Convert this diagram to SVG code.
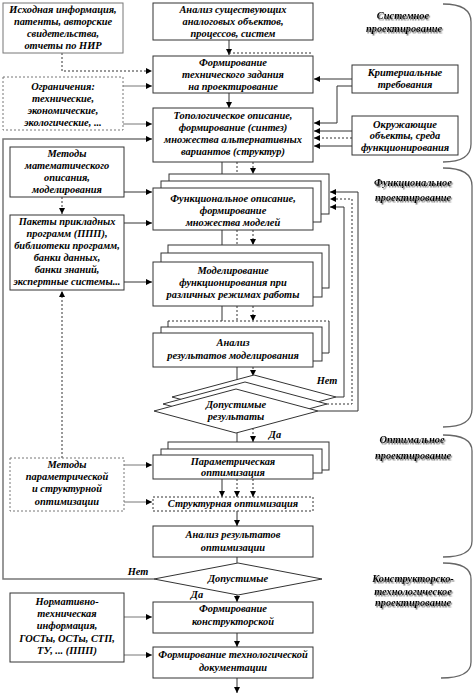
<svg xmlns="http://www.w3.org/2000/svg" width="474" height="695" viewBox="0 0 474 695">
<defs>
<marker id="ar" markerWidth="6" markerHeight="6" refX="6" refY="3" orient="auto" markerUnits="userSpaceOnUse"><path d="M0,0 L6,3 L0,6 z" fill="#000"/></marker>
<filter id="sh" x="-10%" y="-30%" width="130%" height="180%"><feDropShadow dx="1.2" dy="1.5" stdDeviation="0.6" flood-color="#777" flood-opacity="1"/></filter>
<style>
.t{font-family:"Liberation Serif","Times New Roman",serif;font-weight:bold;font-style:italic;font-size:10.4px;fill:#000;text-anchor:middle}
.b{fill:#fff;stroke:#333;stroke-width:1}
.g{fill:#fff;stroke:#777;stroke-width:1}
.d{stroke-dasharray:2 2}
.l{fill:none;stroke:#333;stroke-width:1}
.lg{fill:none;stroke:#777;stroke-width:1}
.br{fill:none;stroke:#666;stroke-width:1.3}
</style>
</defs>
<rect width="474" height="695" fill="#fff"/>

<g id="connectors">
<path class="l d" d="M62,53 V71 H152" marker-end="url(#ar)"/>
<path class="lg" d="M123,86 H152" marker-end="url(#ar)"/>
<path class="lg" d="M123,124 H152" marker-end="url(#ar)"/>
<path class="lg" d="M154,579 H3 V139 H152" marker-end="url(#ar)" style="stroke-width:1.5"/>
<path class="l" d="M124,192 H152" marker-end="url(#ar)"/>
<path class="l d" d="M62,197 V214" marker-end="url(#ar)"/>
<path class="l" d="M124,223 H152" marker-end="url(#ar)"/>
<path class="l" d="M124,282 H152" marker-end="url(#ar)"/>
<path class="l d" d="M62,458 V291" marker-end="url(#ar)"/>
<path class="lg" d="M124,465 H152" marker-end="url(#ar)"/>
<path class="lg" d="M124,502 H152" marker-end="url(#ar)"/>
<path class="lg" d="M124,617 H152" marker-end="url(#ar)"/>
<path class="lg" d="M124,655 H152" marker-end="url(#ar)"/>
<path class="l" d="M352,79 H314" marker-end="url(#ar)"/>
<path class="l" d="M352,86 H337 V123 H314" marker-end="url(#ar)"/>
<path class="l" d="M352,131 H314" marker-end="url(#ar)"/>
<path class="l d" d="M352,138 H314" marker-end="url(#ar)"/>
<path class="l" d="M352,146 H314" marker-end="url(#ar)"/>
<path class="l" d="M336,397 H344 V207 H330" marker-end="url(#ar)"/>
<path class="l d" d="M327,404 H352 V199 H330" marker-end="url(#ar)"/>
<path class="l" d="M318,411 H358 V192 H330" marker-end="url(#ar)"/>
<path class="l" d="M229,40 V55" marker-end="url(#ar)"/>
<path class="l" d="M229,93 V108" marker-end="url(#ar)"/>
<path class="l" d="M222,162 V188" marker-end="url(#ar)"/>
<path class="l d" d="M237,162 V181" marker-end="url(#ar)"/>
<path class="l d" d="M253,162 V174" marker-end="url(#ar)"/>
<path class="l" d="M222,230 V262" marker-end="url(#ar)"/>
<path class="l d" d="M237,230 V253" marker-end="url(#ar)"/>
<path class="l d" d="M253,230 V245" marker-end="url(#ar)"/>
<path class="l" d="M222,306 V333" marker-end="url(#ar)"/>
<path class="l d" d="M237,306 V327" marker-end="url(#ar)"/>
<path class="l d" d="M253,306 V321" marker-end="url(#ar)"/>
<path class="l" d="M237,367 V389" marker-end="url(#ar)"/>
<path class="l d" d="M253,367 V376" marker-end="url(#ar)"/>
<path class="l" d="M237,433 V455" marker-end="url(#ar)"/>
<path class="l d" d="M253,428 V442" marker-end="url(#ar)"/>
<path class="l" d="M222,479 V497" marker-end="url(#ar)"/>
<path class="l d" d="M237,479 V497" marker-end="url(#ar)"/>
<path class="l d" d="M253,479 V497" marker-end="url(#ar)"/>
<path class="l" d="M237,511 V526" marker-end="url(#ar)"/>
<path class="l" d="M237,557 V563"/>
<path class="l" d="M237,595 V602" marker-end="url(#ar)"/>
<path class="l" d="M237,633 V647" marker-end="url(#ar)"/>
<path class="l" d="M237,678 V693" marker-end="url(#ar)"/>
<text class="t" x="327" y="384">Нет</text>
<text class="t" x="275" y="438">Да</text>
<text class="t" x="138" y="575">Нет</text>
<text class="t" x="197" y="598">Да</text>
</g>

<g id="n_source">
<rect class="g" x="3" y="3" width="120" height="50"/>
<text class="t" x="63" y="13">Исходная информация,</text>
<text class="t" x="63" y="25">патенты, авторские</text>
<text class="t" x="63" y="37">свидетельства,</text>
<text class="t" x="63" y="49">отчеты по НИР</text>
</g>
<g id="n_limits">
<rect class="g d" x="3" y="77" width="120" height="53"/>
<text class="t" x="63" y="90">Ограничения:</text>
<text class="t" x="63" y="102">технические,</text>
<text class="t" x="63" y="114">экономические,</text>
<text class="t" x="63" y="126">экологические, ...</text>
</g>
<g id="n_methods_math">
<rect class="b" x="10" y="147" width="114" height="50"/>
<text class="t" x="67" y="157">Методы</text>
<text class="t" x="67" y="169">математического</text>
<text class="t" x="67" y="181">описания,</text>
<text class="t" x="67" y="193">моделирования</text>
</g>
<g id="n_packages">
<rect class="b" x="10" y="215" width="114" height="75"/>
<text class="t" x="67" y="225">Пакеты прикладных</text>
<text class="t" x="67" y="237">программ (ППП),</text>
<text class="t" x="67" y="249">библиотеки программ,</text>
<text class="t" x="67" y="261">банки данных,</text>
<text class="t" x="67" y="273">банки знаний,</text>
<text class="t" x="67" y="285">экспертные системы...</text>
</g>
<g id="n_methods_opt">
<rect class="g d" x="10" y="458" width="114" height="53"/>
<text class="t" x="67" y="468">Методы</text>
<text class="t" x="67" y="480">параметрической</text>
<text class="t" x="67" y="492">и структурной</text>
<text class="t" x="67" y="505">оптимизации</text>
</g>
<g id="n_norm">
<rect class="b" x="10" y="593" width="114" height="69"/>
<text class="t" x="67" y="605">Нормативно-</text>
<text class="t" x="67" y="617">техническая</text>
<text class="t" x="67" y="629">информация,</text>
<text class="t" x="67" y="642">ГОСТы, ОСТы, СТП,</text>
<text class="t" x="67" y="654">ТУ, ... (ППП)</text>
</g>

<g id="n_analysis">
<rect class="b" x="153" y="3" width="160" height="37"/>
<text class="t" x="233" y="13">Анализ существующих</text>
<text class="t" x="233" y="25">аналоговых объектов,</text>
<text class="t" x="233" y="37">процессов, систем</text>
</g>
<g id="n_spec">
<rect class="b" x="153" y="56" width="160" height="37"/>
<line class="l d" x1="229" y1="53" x2="313" y2="53"/>
<text class="t" x="233" y="66">Формирование</text>
<text class="t" x="233" y="78">технического задания</text>
<text class="t" x="233" y="90">на проектирование</text>
</g>
<g id="n_criteria">
<rect class="b" x="352" y="65" width="106" height="28"/>
<text class="t" x="405" y="76">Критериальные</text>
<text class="t" x="405" y="88">требования</text>
</g>
<g id="n_topo">
<rect class="b" x="153" y="108" width="160" height="54"/>
<text class="t" x="233" y="119">Топологическое описание,</text>
<text class="t" x="233" y="131">формирование (синтез)</text>
<text class="t" x="233" y="143">множества альтернативных</text>
<text class="t" x="233" y="155">вариантов (структур)</text>
</g>
<g id="n_env">
<rect class="b" x="352" y="116" width="106" height="39"/>
<text class="t" x="405" y="128">Окружающие</text>
<text class="t" x="405" y="139">объекты, среда</text>
<text class="t" x="405" y="151">функционирования</text>
</g>
<g id="n_func">
<rect class="b" x="169" y="174" width="160" height="40"/>
<rect class="b" x="161" y="181" width="160" height="41"/>
<rect class="b" x="153" y="188" width="160" height="42"/>
<text class="t" x="233" y="202">Функциональное описание,</text>
<text class="t" x="233" y="214">формирование</text>
<text class="t" x="233" y="226">множества моделей</text>
</g>
<g id="n_model">
<rect class="b" x="168" y="245" width="161" height="43"/>
<rect class="b" x="161" y="253" width="161" height="44"/>
<rect class="b" x="153" y="262" width="160" height="44"/>
<text class="t" x="233" y="274">Моделирование</text>
<text class="t" x="233" y="286">функционирования при</text>
<text class="t" x="233" y="298">различных режимах работы</text>
</g>
<g id="n_analysis_model">
<rect x="168" y="321" width="161" height="32" fill="#fff"/>
<path class="l" d="M168,321 V353 H329 V321"/>
<line class="l d" x1="168" y1="321" x2="329" y2="321"/>
<rect class="b" x="161" y="327" width="161" height="34"/>
<rect class="b" x="153" y="333" width="160" height="34"/>
<text class="t" x="233" y="346">Анализ</text>
<text class="t" x="233" y="359">результатов моделирования</text>
</g>
<g id="n_decision1">
<polygon class="b" points="172,397 254,375 336,397 254,419"/>
<polygon class="b" points="163,404 245,382 327,404 245,426"/>
<polygon class="b" points="154,411 236,389 318,411 236,433"/>
<text class="t" x="236" y="408">Допустимые</text>
<text class="t" x="236" y="420">результаты</text>
</g>
<g id="n_param">
<rect class="b" x="168" y="442" width="161" height="28"/>
<rect class="b" x="161" y="449" width="161" height="24"/>
<rect class="b" x="153" y="455" width="160" height="24"/>
<text class="t" x="233" y="465">Параметрическая</text>
<text class="t" x="233" y="476">оптимизация</text>
</g>
<g id="n_struct">
<rect class="b d" x="153" y="497" width="160" height="14"/>
<text class="t" x="233" y="507">Структурная оптимизация</text>
</g>
<g id="n_analysis_opt">
<rect class="b" x="153" y="526" width="160" height="31"/>
<text class="t" x="233" y="538">Анализ результатов</text>
<text class="t" x="233" y="551">оптимизации</text>
</g>
<g id="n_decision2">
<polygon class="b" points="154,579 238,563 322,579 238,595"/>
<text class="t" x="238" y="582">Допустимые</text>
</g>
<g id="n_design_doc">
<rect class="b" x="153" y="602" width="160" height="31"/>
<text class="t" x="233" y="612">Формирование</text>
<text class="t" x="233" y="625">конструкторской</text>
</g>
<g id="n_tech_doc">
<rect class="b" x="153" y="647" width="160" height="31"/>
<text class="t" x="233" y="658">Формирование технологической</text>
<text class="t" x="233" y="671">документации</text>
</g>

<g id="stages">
<path class="br" d="M443,4 Q471,4 471,22 V144 Q471,162 443,162"/>
<path class="br" d="M443,168 Q472,168 472,186 V409 Q472,427 443,427"/>
<path class="br" d="M443,435 Q472,435 472,451 V541 Q472,557 443,557"/>
<path class="br" d="M443,563 Q471,563 471,579 V662 Q471,678 441,678"/>
<g filter="url(#sh)">
<text class="t" x="403" y="19">Системное</text>
<text class="t" x="404" y="32">проектирование</text>
<text class="t" x="413" y="186">Функциональное</text>
<text class="t" x="413" y="201">проектирование</text>
<text class="t" x="412" y="443">Оптимальное</text>
<text class="t" x="413" y="459">проектирование</text>
<text class="t" x="413" y="582">Конструкторско-</text>
<text class="t" x="413" y="595">технологическое</text>
<text class="t" x="413" y="606">проектирование</text>
</g>
</g>
</svg>
